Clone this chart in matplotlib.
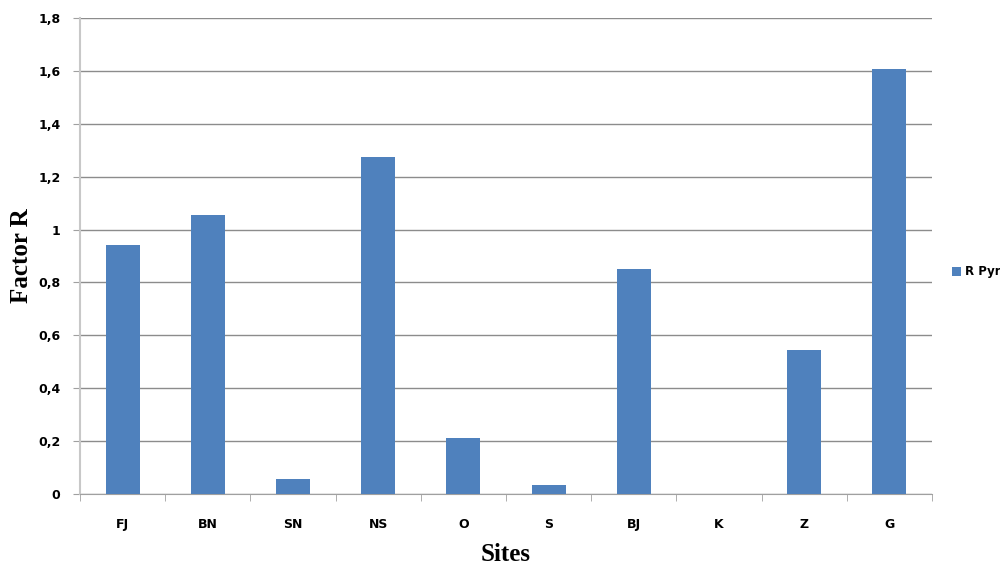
import matplotlib
matplotlib.use("Agg")
import matplotlib.pyplot as plt
from matplotlib.ticker import FuncFormatter, FixedLocator
import numpy as np

sites = ["FJ", "BN", "SN", "NS", "O", "S", "BJ", "K", "Z", "G"]
r_pyr = [0.942, 1.055, 0.057, 1.275, 0.212, 0.034, 0.851, 0.0, 0.545, 1.607]
y_ticks = [0, 0.2, 0.4, 0.6, 0.8, 1.0, 1.2, 1.4, 1.6, 1.8]

fig = plt.figure(figsize=(10, 5.64), dpi=100)
ax = fig.add_axes([0.08, 1 - 494/564, 0.852, (494 - 18)/564])

x = np.arange(len(sites))
ax.bar(x, r_pyr, width=0.4, color="#4F81BD", zorder=3, label="R Pyr")

ax.set_xlim(-0.5, len(sites) - 0.5)
ax.set_ylim(0, 1.8)
ax.set_yticks(y_ticks)

def fmt(v, pos):
    s = ("%.1f" % v).rstrip("0").rstrip(".")
    return s.replace(".", ",")
ax.yaxis.set_major_formatter(FuncFormatter(fmt))

ax.set_xticks(x)
ax.set_xticklabels(sites)
ax.xaxis.set_minor_locator(FixedLocator(np.arange(-0.5, len(sites), 1.0)))
ax.tick_params(axis="x", which="major", length=0, pad=17)
ax.tick_params(axis="x", which="minor", length=5, color="#A0A0A0", direction="out")
ax.tick_params(axis="y", length=5, color="#A0A0A0", direction="out", pad=9)

for lab in ax.get_xticklabels() + ax.get_yticklabels():
    lab.set_fontweight("bold")
    lab.set_fontsize(9)
    lab.set_family("DejaVu Sans")

ax.grid(axis="y", color="#8C8C8C", linewidth=1, zorder=0)
for s in ["top", "right"]:
    ax.spines[s].set_visible(False)
ax.spines["left"].set_color("#C8C8C8")
ax.spines["left"].set_linewidth(1.5)
ax.spines["bottom"].set_color("#A0A0A0")

ax.set_xlabel("Sites", fontfamily="Liberation Serif", fontweight="bold", fontsize=18)
ax.set_ylabel("Factor R", fontfamily="Liberation Serif", fontweight="bold", fontsize=18)
ax.xaxis.set_label_coords(0.5, (494 - 543) / 476)
ax.yaxis.set_label_coords((33 - 80) / 852, 0.5)

fig.legend(loc="center left", bbox_to_anchor=(0.952, 1 - 272/564),
           frameon=False, handlelength=0.8, handleheight=0.8, handletextpad=0.3,
           borderaxespad=0, borderpad=0,
           prop={"weight": "bold", "size": 8.5, "family": "DejaVu Sans"})

fig.savefig("out.png", dpi=100)
